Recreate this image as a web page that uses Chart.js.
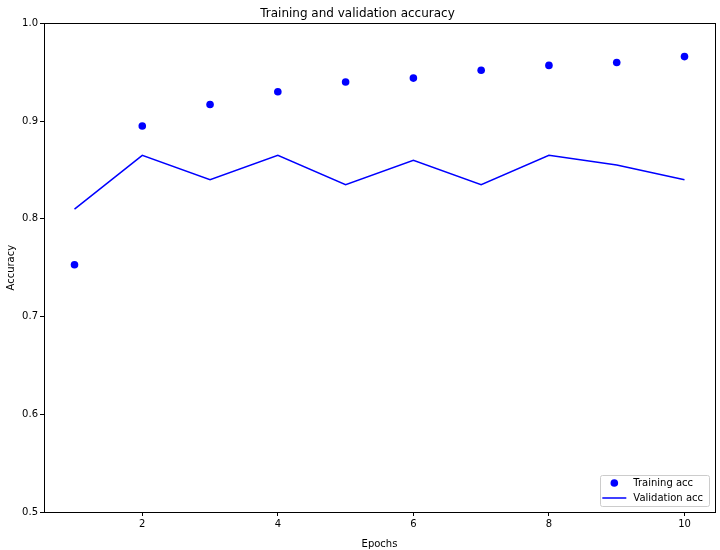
<!DOCTYPE html>
<html>
<head>
<meta charset="utf-8">
<script src="https://cdn.jsdelivr.net/npm/chart.js@4/dist/chart.umd.min.js"></script>
<style>
  html, body { margin: 0; padding: 0; background: #fff; }
  #wrap { width: 720px; height: 550px; }
</style>
</head>
<body>
<div id="wrap"><canvas id="accChart" width="720" height="550"></canvas></div>
<script>
const epochs = [1, 2, 3, 4, 5, 6, 7, 8, 9, 10];
const trainAcc = [0.753, 0.895, 0.917, 0.930, 0.940, 0.944, 0.952, 0.957, 0.960, 0.966];
const valAcc = [0.810, 0.865, 0.840, 0.865, 0.835, 0.860, 0.835, 0.865, 0.855, 0.840];
const xTicks = [2, 4, 6, 8, 10];
const yTicks = [0.5, 0.6, 0.7, 0.8, 0.9, 1.0];

const FONT = "'DejaVu Sans', sans-serif";

// frame around the plot area, like matplotlib spines
const framePlugin = {
  id: "frame",
  afterDraw(chart) {
    const a = chart.chartArea;
    const ctx = chart.ctx;
    ctx.save();
    ctx.strokeStyle = "#000";
    ctx.lineWidth = 1;
    ctx.strokeRect(Math.round(a.left) + 0.5, Math.round(a.top) + 0.5,
      Math.round(a.right - a.left), Math.round(a.bottom - a.top));
    ctx.restore();
  },
};

// legend box in the lower right of the plot area
const boxLegend = {
  id: "boxLegend",
  afterDraw(chart) {
    const a = chart.chartArea;
    const ctx = chart.ctx;
    const sets = chart.data.datasets;
    ctx.save();
    ctx.font = "10px " + FONT;
    let textW = 0;
    sets.forEach(d => { textW = Math.max(textW, ctx.measureText(d.label).width); });
    const w = 33 + textW + 6;
    const h = 31;
    const x0 = a.right - 6 - w;
    const y0 = a.bottom - 6 - h;
    ctx.fillStyle = "rgba(255,255,255,0.8)";
    ctx.strokeStyle = "#cccccc";
    ctx.lineWidth = 1;
    ctx.beginPath();
    ctx.roundRect(Math.round(x0) + 0.5, Math.round(y0) + 0.5, Math.round(w), h, 2);
    ctx.fill();
    ctx.stroke();
    sets.forEach((d, i) => {
      const cy = y0 + 8 + i * 15;
      if (d.showLine === false) {
        ctx.fillStyle = d.pointBackgroundColor;
        ctx.beginPath();
        ctx.arc(x0 + 14, cy, 3.8, 0, Math.PI * 2);
        ctx.fill();
      } else {
        ctx.strokeStyle = d.borderColor;
        ctx.lineWidth = 1.5;
        ctx.beginPath();
        ctx.moveTo(x0 + 2, cy);
        ctx.lineTo(x0 + 26, cy);
        ctx.stroke();
      }
      ctx.fillStyle = "#000";
      ctx.textBaseline = "middle";
      ctx.fillText(d.label, x0 + 33, cy);
    });
    ctx.restore();
  },
};

const ctxAcc = document.getElementById("accChart").getContext("2d");
new Chart(ctxAcc, {
  type: "line",
  data: {
    datasets: [
      {
        label: "Training acc",
        data: epochs.map((e, i) => ({ x: e, y: trainAcc[i] })),
        showLine: false,
        pointRadius: 3.8,
        pointBackgroundColor: "#0000ff",
        pointBorderWidth: 0,
        borderColor: "#0000ff",
      },
      {
        label: "Validation acc",
        data: epochs.map((e, i) => ({ x: e, y: valAcc[i] })),
        borderColor: "#0000ff",
        borderWidth: 1.5,
        pointRadius: 0,
        tension: 0,
        fill: false,
      },
    ],
  },
  options: {
    responsive: false,
    animation: false,
    layout: { padding: { left: 0, right: 5, top: 0, bottom: 0 } },
    plugins: {
      legend: { display: false },
      tooltip: { enabled: false },
      title: {
        display: true,
        text: "Training and validation accuracy",
        color: "#000",
        font: { family: FONT, size: 12, weight: "normal" },
        padding: { top: 7, bottom: 2 },
      },
    },
    scales: {
      x: {
        type: "linear",
        min: 0.55,
        max: 10.45,
        afterBuildTicks(s) { s.ticks = xTicks.map(v => ({ value: v })); },
        afterFit(s) { s.height = 38; },
        grid: { drawOnChartArea: false, tickLength: 4, tickColor: "#000" },
        border: { display: false },
        ticks: { color: "#000", font: { family: FONT, size: 10 }, padding: 2, maxRotation: 0 },
        title: {
          display: true,
          text: "Epochs",
          color: "#000",
          font: { family: FONT, size: 10 },
          padding: { top: 2, bottom: 0 },
        },
      },
      y: {
        min: 0.5,
        max: 1.0,
        afterBuildTicks(s) { s.ticks = yTicks.map(v => ({ value: v })); },
        afterFit(s) { s.width = 44; },
        grid: { drawOnChartArea: false, tickLength: 4, tickColor: "#000" },
        border: { display: false },
        ticks: {
          color: "#000",
          font: { family: FONT, size: 10 },
          padding: 2,
          callback: v => v.toFixed(1),
        },
        title: {
          display: true,
          text: "Accuracy",
          color: "#000",
          font: { family: FONT, size: 10 },
          padding: { top: 5, bottom: 0 },
        },
      },
    },
  },
  plugins: [framePlugin, boxLegend],
});
</script>
</body>
</html>
